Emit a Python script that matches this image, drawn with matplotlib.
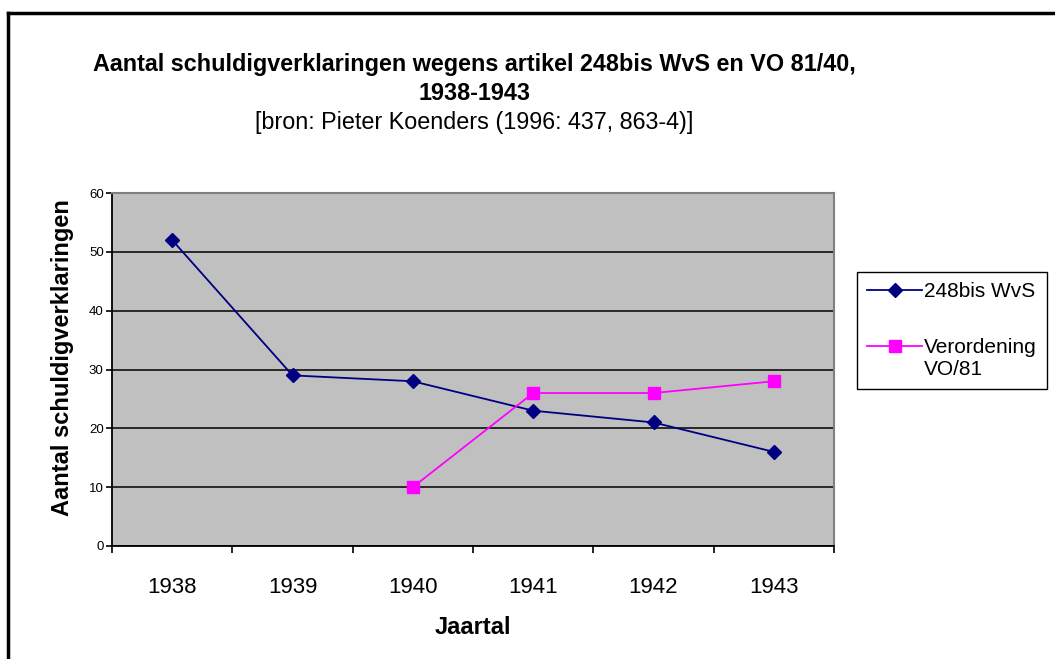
import matplotlib.pyplot as plt
import numpy as np
from matplotlib.lines import Line2D
from matplotlib.legend_handler import HandlerLine2D

plt.rcParams['font.family'] = ['Liberation Sans', 'DejaVu Sans']

# ---- data ----
years = ['1938', '1939', '1940', '1941', '1942', '1943']
wvs_248bis = [52, 29, 28, 23, 21, 16]
vo_81 = [np.nan, np.nan, 10, 26, 26, 28]
y_ticks = [0, 10, 20, 30, 40, 50, 60]

navy = '#000080'
magenta = '#FF00FF'


class FirstLineHandler(HandlerLine2D):
    """Puts the legend handle next to the first line of a two-line label."""
    def create_artists(self, legend, orig_handle, xdescent, ydescent, width, height,
                       fontsize, trans):
        artists = super().create_artists(legend, orig_handle, xdescent, ydescent,
                                         width, height, fontsize, trans)
        shift = 0.62 * fontsize
        for a in artists:
            a.set_ydata(np.asarray(a.get_ydata(), dtype=float) + shift)
        return artists


fig = plt.figure(figsize=(10.55, 6.59), dpi=100)
fig.patch.set_facecolor('white')

# outer chart border (only top and left visible in original)
fig.add_artist(Line2D([8 / 1055, 8 / 1055], [0, 1 - 13 / 659], color='black', lw=2.5,
                      transform=fig.transFigure))
fig.add_artist(Line2D([8 / 1055, 1], [1 - 13 / 659, 1 - 13 / 659], color='black', lw=2.5,
                      transform=fig.transFigure))

ax = fig.add_axes([112 / 1055, 1 - 546 / 659, 722 / 1055, 353 / 659])
ax.set_facecolor('#C0C0C0')

x = np.arange(len(years))
l1, = ax.plot(x, wvs_248bis, color=navy, lw=1.3, marker='D', ms=7.5,
              markerfacecolor=navy, markeredgecolor=navy, label='248bis WvS', zorder=3)
l2, = ax.plot(x, vo_81, color=magenta, lw=1.3, marker='s', ms=9,
              markerfacecolor=magenta, markeredgecolor=magenta,
              label='Verordening\nVO/81', zorder=3)

ax.set_xlim(-0.5, len(years) - 0.5)
ax.set_ylim(0, 60)

# category style x axis: ticks between categories, labels centred
ax.set_xticks(np.arange(-0.5, len(years), 1.0))
ax.set_xticklabels([])
ax.set_xticks(x, minor=True)
ax.set_xticklabels(years, minor=True, fontsize=16)
ax.tick_params(axis='x', which='major', direction='out', length=5, width=1.2)
ax.tick_params(axis='x', which='minor', length=0, pad=22)

ax.set_yticks(y_ticks)
ax.set_yticklabels([str(v) for v in y_ticks], fontsize=9.5)
ax.tick_params(axis='y', direction='out', length=4, width=1.2, pad=2)

ax.yaxis.grid(True, color='black', lw=1.1)
ax.set_axisbelow(True)

for side in ['left', 'bottom']:
    ax.spines[side].set_color('black')
    ax.spines[side].set_linewidth(1.3)
for side in ['top', 'right']:
    ax.spines[side].set_color('#808080')
    ax.spines[side].set_linewidth(1.5)

ax.set_xlabel('Jaartal', fontsize=17, fontweight='bold', labelpad=13)
ax.set_ylabel('Aantal schuldigverklaringen', fontsize=17, fontweight='bold')
ax.yaxis.set_label_coords(-0.053, 0.535)

# titles
fig.text(474 / 1055, 1 - 65 / 659,
         'Aantal schuldigverklaringen wegens artikel 248bis WvS en VO 81/40,',
         ha='center', va='center', fontsize=16.8, fontweight='bold')
fig.text(474 / 1055, 1 - 93 / 659, '1938-1943',
         ha='center', va='center', fontsize=16.8, fontweight='bold')
fig.text(474 / 1055, 1 - 122 / 659, '[bron: Pieter Koenders (1996: 437, 863-4)]',
         ha='center', va='center', fontsize=16.8)

# legend
leg = ax.legend(handles=[l1, l2], loc='upper left',
                bbox_to_anchor=(857 / 1055, 1 - 272 / 659),
                bbox_transform=fig.transFigure, fontsize=15, frameon=True,
                fancybox=False, edgecolor='black', framealpha=1, handlelength=2.6,
                handletextpad=0.1, borderpad=0.5, labelspacing=1.75, borderaxespad=0,
                handler_map={l2: FirstLineHandler()})
leg.get_frame().set_linewidth(1.0)

fig.savefig('out.png', dpi=100)
